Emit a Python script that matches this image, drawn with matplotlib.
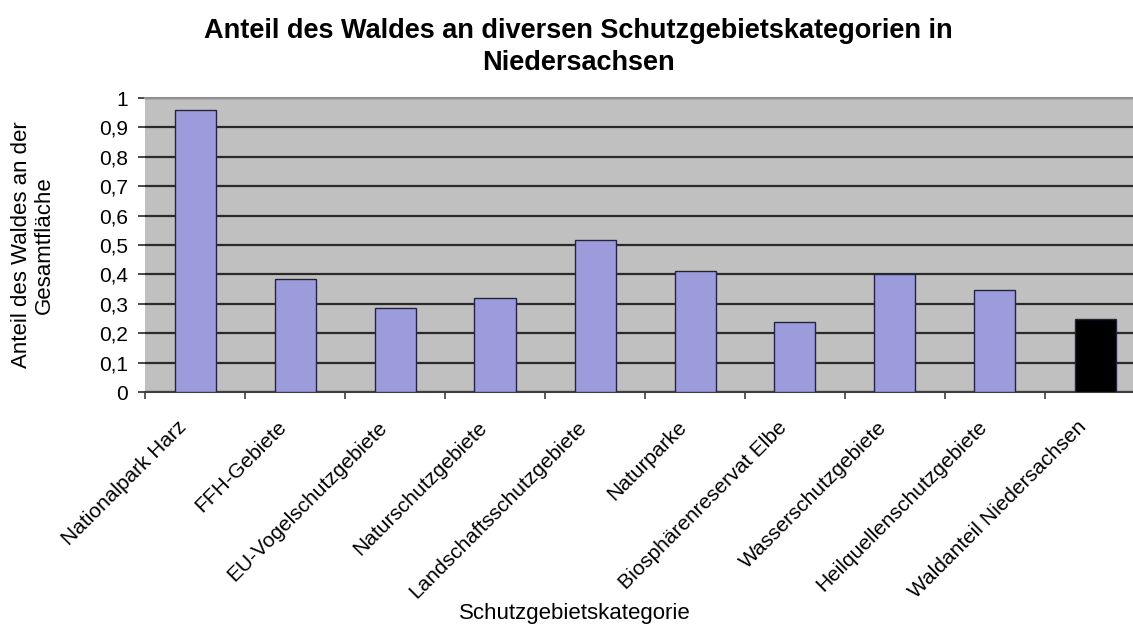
import matplotlib
matplotlib.use('Agg')
import matplotlib.pyplot as plt
from matplotlib.ticker import FuncFormatter
from matplotlib.transforms import ScaledTranslation

# Kategorien und Waldanteil
kategorien = ['Nationalpark Harz', 'FFH-Gebiete', 'EU-Vogelschutzgebiete',
              'Naturschutzgebiete', 'Landschaftsschutzgebiete', 'Naturparke',
              'Biosphärenreservat Elbe', 'Wasserschutzgebiete',
              'Heilquellenschutzgebiete', 'Waldanteil Niedersachsen']
anteil = [0.96, 0.385, 0.287, 0.32, 0.518, 0.413, 0.237, 0.40, 0.347, 0.248]
farben = ['#9c9cdc'] * 9 + ['#000000']

plt.rcParams['font.family'] = ['Liberation Sans', 'DejaVu Sans']

fig = plt.figure(figsize=(11.33, 6.3), dpi=100)
# plot area runs past the right edge, as in the original
ax = fig.add_axes([145 / 1133, 1 - 392 / 630, 1000 / 1133, 294 / 630])
ax.set_facecolor('#c0c0c0')

x = range(len(kategorien))
ax.bar(x, anteil, width=0.41, color=farben, edgecolor='#22224a', linewidth=1.0, zorder=3)

ax.set_xlim(-0.5, len(kategorien) - 0.5)
ax.set_ylim(0, 1)
ax.set_yticks([i / 10 for i in range(11)])
ax.yaxis.set_major_formatter(FuncFormatter(lambda v, p: ('%g' % round(v, 1)).replace('.', ',')))
ax.grid(axis='y', color='#2a2a2a', linewidth=1.6, zorder=1)
ax.tick_params(axis='y', length=5, width=1.2, color='#2a2a2a', labelsize=15, pad=7)

ax.set_xticks(list(x))
ax.set_xticklabels(kategorien, rotation=45, ha='right', rotation_mode='anchor', fontsize=15)
ax.set_xticks([i - 0.5 for i in range(len(kategorien) + 1)], minor=True)
ax.tick_params(axis='x', which='major', length=0, pad=22)
ax.tick_params(axis='x', which='minor', length=5, width=1.2, color='#404040')
# shift the slanted labels a bit to the left like in the original
shift = ScaledTranslation(-18 / 100, 5 / 100, fig.dpi_scale_trans)
for lab in ax.get_xticklabels():
    lab.set_transform(lab.get_transform() + shift)

for s in ['left', 'right']:
    ax.spines[s].set_visible(False)
ax.spines['top'].set_color('#909090')
ax.spines['top'].set_linewidth(1.5)
ax.spines['bottom'].set_color('#404040')
ax.spines['bottom'].set_linewidth(1.5)

fig.text(578 / 1133, 1 - 47 / 630, 'Anteil des Waldes an diversen Schutzgebietskategorien in\nNiedersachsen',
         ha='center', va='center', fontsize=19.5, fontweight='bold', linespacing=1.3)
fig.text(33 / 1133, 1 - 245 / 630, 'Anteil des Waldes an der\nGesamtfläche', rotation=90,
         ha='center', va='center', fontsize=16, linespacing=1.15)
fig.text(575 / 1133, 1 - 614 / 630, 'Schutzgebietskategorie', ha='center', va='center', fontsize=16)

fig.savefig('out.png', dpi=100)
